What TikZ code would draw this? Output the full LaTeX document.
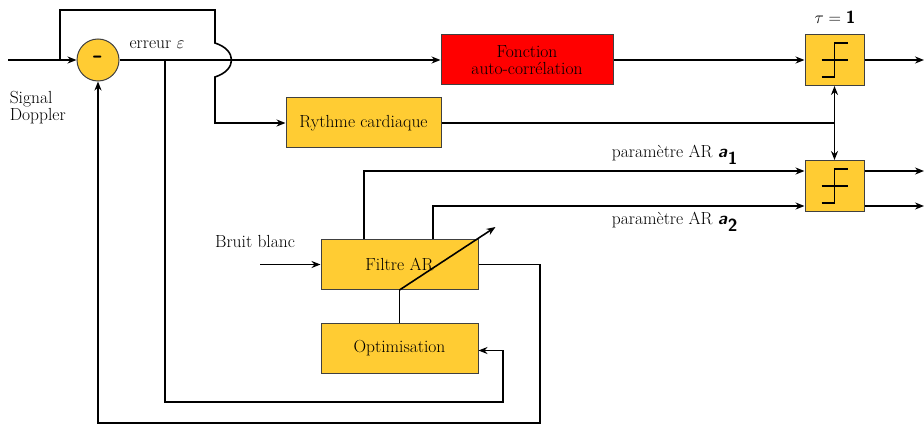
\documentclass[tikz,border=0pt]{standalone}
\usepackage{fontspec}
\usetikzlibrary{arrows.meta,calc}
\definecolor{boxy}{RGB}{255,204,51}
\definecolor{boxr}{RGB}{255,0,0}
\begin{document}
\begin{tikzpicture}[x=1pt,y=-1pt,line width=1.6pt,
  >={Stealth[length=9pt,width=7pt]},
  every node/.style={font=\fontsize{17.5}{20}\selectfont, inner sep=0pt},
  blk/.style={draw=black!75, line width=1pt, fill=boxy, minimum width=#1, minimum height=50pt, align=center},
  thr/.style={draw=black!75, line width=1pt, fill=boxy, minimum width=59pt, minimum height=51pt},
  sym/.style={line width=1.1pt}]
\useasboundingbox (0,0) rectangle (924,425);
% blocks
\node[circle, draw=black!75, line width=1pt, fill=boxy, minimum size=42pt] (sum) at (98,60) {\fontsize{28}{30}\selectfont\textsf{\textbf{-}}};
\node[blk=172pt, fill=boxr] (fonc) at (527,60) {Fonction\\[-3pt]auto-corrélation};
\node[thr] (th1) at (834.5,60) {};
\node[blk=155pt] (rc) at (363.5,123) {Rythme cardiaque};
\node[thr] (th2) at (834.5,186) {};
\node[blk=157pt] (ar) at (399.5,264.5) {Filtre AR};
\node[blk=157pt] (opt) at (399.5,348.5) {Optimisation};
% labels
\node (tau) at (835,17) {$\tau = \textsf{\textbf{1}}$};
\node (err) at (157,45) {erreur $\varepsilon$};
\node[align=left, anchor=north west] (sd) at (9,90) {Signal\\[-3pt]Doppler};
\node (bb) at (255,241) {Bruit blanc};
\node (pa1) at (675,155) {paramètre AR \textsf{\textbf{\textit{a}}}$_{\textsf{\textbf{1}}}$};
\node (pa2) at (675,222) {paramètre AR \textsf{\textbf{\textit{a}}}$_{\textsf{\textbf{2}}}$};
% threshold symbols
\foreach \t in {th1,th2}{
  \draw[sym] ($(\t)+(-13,17)$) -- ($(\t)+(0,17)$) -- ($(\t)+(0,-17)$) -- ($(\t)+(13,-17)$);
  \draw[sym] ($(\t)+(-13,0)$) -- ($(\t)+(13,0)$);
}
% coordinates
\coordinate (in) at (8,60);
\coordinate (b0) at (60,60);
\coordinate (bt) at (215,10);
\coordinate (b1) at (215,43);
\coordinate (b2) at (215,77);
\coordinate (o1) at (924,60);
\coordinate (o2) at (924,171);
\coordinate (o3) at (924,206);
\coordinate (j) at (834.5,123);
\coordinate (e0) at (165,60);
\coordinate (nb) at (260,264.5);
% connectors
\draw[->] (in) -- (sum);
\draw[->] (b0) |- (bt) -- (b1) .. controls (237,50) and (237,70) .. (b2) |- (rc.west);
\draw[->] (sum) -- (fonc);
\draw[->] (fonc) -- (th1);
\draw[->] (th1) -- (o1);
\draw (rc.east) -- (j);
\draw[->] (j) -- (th1.south);
\draw[->] (j) -- (th2.north);
\draw[->] ([xshift=-35.5pt]ar.north) |- ([yshift=15pt]th2.west);
\draw[->] ([xshift=33.5pt]ar.north) |- ([yshift=-20pt]th2.west);
\draw[->] ([yshift=15pt]th2.east) -- (o2);
\draw[->] ([yshift=-20pt]th2.east) -- (o3);
\draw[->] (nb) -- (ar.west);
\draw[->] (ar.south) -- ++(96,-63);
\draw (opt.north) -- (ar.south);
\draw[->] (ar.east) -| (540,423) -| (sum.south);
\draw[->] (e0) |- (503,402) |- ([yshift=-2pt]opt.east);
\end{tikzpicture}
\end{document}
